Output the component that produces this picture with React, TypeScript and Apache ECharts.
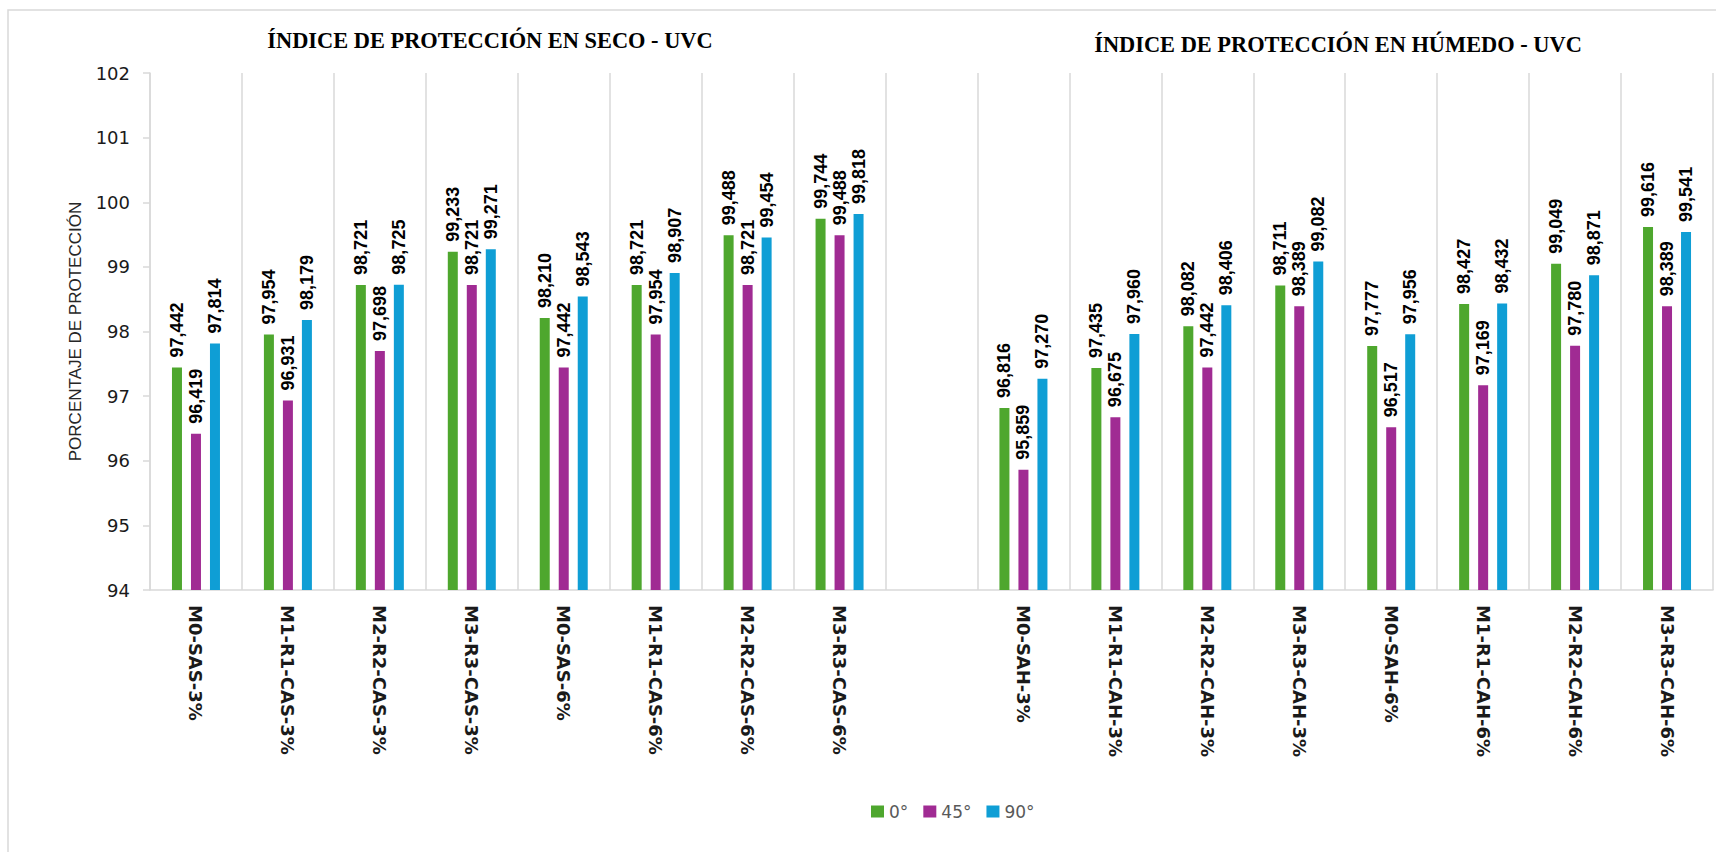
import React, { useEffect, useRef } from "react";
import * as echarts from "echarts";

const categories = [
  "M0-SAS-3%", "M1-R1-CAS-3%", "M2-R2-CAS-3%", "M3-R3-CAS-3%",
  "M0-SAS-6%", "M1-R1-CAS-6%", "M2-R2-CAS-6%", "M3-R3-CAS-6%",
  "",
  "M0-SAH-3%", "M1-R1-CAH-3%", "M2-R2-CAH-3%", "M3-R3-CAH-3%",
  "M0-SAH-6%", "M1-R1-CAH-6%", "M2-R2-CAH-6%", "M3-R3-CAH-6%",
];

const seriesNames = ["0°", "45°", "90°"];

const values0 = [
  97.442, 97.954, 98.721, 99.233, 98.21, 98.721, 99.488, 99.744,
  null,
  96.816, 97.435, 98.082, 98.711, 97.777, 98.427, 99.049, 99.616,
];
const values45 = [
  96.419, 96.931, 97.698, 98.721, 97.442, 97.954, 98.721, 99.488,
  null,
  95.859, 96.675, 97.442, 98.389, 96.517, 97.169, 97.78, 98.389,
];
const values90 = [
  97.814, 98.179, 98.725, 99.271, 98.543, 98.907, 99.454, 99.818,
  null,
  97.27, 97.96, 98.406, 99.082, 97.956, 98.432, 98.871, 99.541,
];

const yTicks = { min: 94, max: 102, interval: 1 };
const titleLeft = "ÍNDICE DE PROTECCIÓN EN SECO - UVC";
const titleRight = "ÍNDICE DE PROTECCIÓN EN HÚMEDO - UVC";
const yAxisName = "PORCENTAJE DE PROTECCIÓN";

const colors = ["#4EA72E", "#A02B93", "#0F9ED5"];

export default function App() {
  const ref = useRef<HTMLDivElement>(null);

  useEffect(() => {
    if (!ref.current) return;
    const chart = echarts.init(ref.current, null, { renderer: "svg" });
    const fmt = (p: any) =>
      p.value == null ? "" : Number(p.value).toFixed(3).replace(".", ",");
    const mkSeries = (name: string, data: (number | null)[], color: string) => ({
      name,
      type: "bar",
      data,
      barWidth: 10,
      barGap: "90%",
      itemStyle: { color },
      label: {
        show: true,
        position: "top",
        rotate: 90,
        align: "left",
        verticalAlign: "middle",
        distance: 10,
        formatter: fmt,
        fontFamily: "Liberation Sans",
        fontWeight: "bold",
        fontSize: 18,
        color: "#000",
      },
    });
    chart.setOption({
      animation: false,
      backgroundColor: "#fff",
      color: colors,
      grid: { left: 150, right: 3, top: 73, bottom: 262, containLabel: false },
      graphic: [
        {
          type: "rect",
          silent: true,
          shape: { x: 8, y: 10, width: 1740, height: 900 },
          style: { fill: "none", stroke: "#d9d9d9", lineWidth: 1.5 },
        },
        {
          type: "text",
          x: 490,
          y: 40,
          style: {
            text: titleLeft,
            font: "bold 22.4px 'Liberation Serif'",
            textAlign: "center",
            textVerticalAlign: "middle",
            align: "center",
            verticalAlign: "middle",
            fill: "#000",
          },
        },
        {
          type: "text",
          x: 1338,
          y: 44,
          style: {
            text: titleRight,
            font: "bold 22.4px 'Liberation Serif'",
            textAlign: "center",
            textVerticalAlign: "middle",
            align: "center",
            verticalAlign: "middle",
            fill: "#000",
          },
        },
      ],
      legend: {
        data: seriesNames,
        left: 866,
        top: 798,
        itemWidth: 13,
        itemHeight: 12,
        itemGap: 15,
        icon: "rect",
        textStyle: { fontFamily: "DejaVu Sans", fontSize: 17, color: "#595959" },
      },
      xAxis: {
        type: "category",
        data: categories,
        boundaryGap: true,
        axisLine: { lineStyle: { color: "#d9d9d9", width: 1.5 } },
        axisTick: { show: false },
        splitLine: { show: true, interval: 0, lineStyle: { color: "#d9d9d9", width: 1.5 } },
        axisLabel: {
          interval: 0,
          rotate: -90,
          margin: 15,
          fontFamily: "DejaVu Sans",
          fontWeight: "bold",
          fontSize: 18,
          color: "#1a1a1a",
        },
      },
      yAxis: {
        type: "value",
        min: yTicks.min,
        max: yTicks.max,
        interval: yTicks.interval,
        name: yAxisName,
        nameLocation: "middle",
        nameGap: 66,
        nameTextStyle: { fontFamily: "Liberation Sans", fontSize: 17, color: "#262626" },
        axisLine: { show: true, lineStyle: { color: "#d9d9d9", width: 1.5 } },
        axisTick: { show: true, inside: false, length: 7, lineStyle: { color: "#d9d9d9", width: 1.5 } },
        splitLine: { show: false },
        axisLabel: { margin: 20, fontFamily: "DejaVu Sans", fontSize: 18, color: "#1a1a1a" },
      },
      series: [
        mkSeries(seriesNames[0], values0, colors[0]),
        mkSeries(seriesNames[1], values45, colors[1]),
        mkSeries(seriesNames[2], values90, colors[2]),
      ],
    });
    return () => chart.dispose();
  }, []);

  return (
    <div
      ref={ref}
      style={{ position: "fixed", left: 0, top: 0, width: 1716, height: 852 }}
    />
  );
}
